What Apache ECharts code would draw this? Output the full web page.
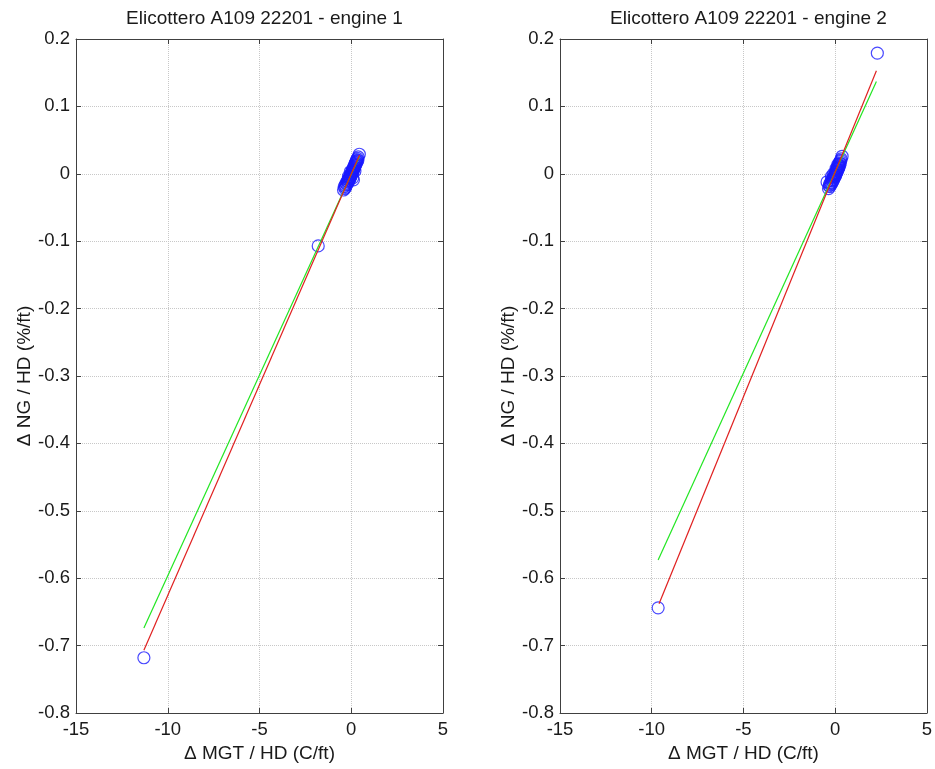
<!DOCTYPE html>
<html>
<head>
<meta charset="utf-8">
<script src="https://cdn.jsdelivr.net/npm/echarts@6/dist/echarts.min.js"></script>
<style>html,body{margin:0;padding:0;background:#fff}#c{width:935px;height:769px}</style>
</head>
<body>
<div id="c"></div>
<script>
// ---- data ----
const titles = ["Elicottero A109 22201 - engine 1", "Elicottero A109 22201 - engine 2"];
const xName = "\u0394 MGT / HD (C/ft)";
const yName = "\u0394 NG / HD (%/ft)";
const xTicks = [-15, -10, -5, 0, 5];
const yTicks = [-0.8, -0.7, -0.6, -0.5, -0.4, -0.3, -0.2, -0.1, 0, 0.1, 0.2];

const points1 = [
  [-11.3, -0.718], [-1.8, -0.107],
  [-0.42, -0.024], [-0.38, -0.019], [-0.35, -0.022], [-0.32, -0.017], [-0.3, -0.020],
  [-0.28, -0.014], [-0.25, -0.016], [-0.22, -0.011], [-0.2, -0.014], [-0.18, -0.009],
  [-0.16, -0.012], [-0.14, -0.007], [-0.12, -0.010], [-0.1, -0.005], [-0.08, -0.008],
  [-0.06, -0.003], [-0.05, -0.006], [-0.03, -0.001], [-0.02, -0.004], [0.0, 0.001],
  [0.01, -0.002], [0.03, 0.003], [0.04, 0.000], [0.06, 0.005], [0.07, 0.002],
  [0.09, 0.007], [0.1, 0.004], [0.12, 0.009], [0.13, 0.006], [0.15, 0.011],
  [0.16, 0.008], [0.18, 0.013], [0.19, 0.010], [0.21, 0.015], [0.22, 0.012],
  [0.24, 0.017], [0.25, 0.014], [0.27, 0.019], [0.28, 0.016], [0.3, 0.021],
  [0.32, 0.018], [0.34, 0.023], [0.36, 0.020], [0.38, 0.025], [0.44, 0.029],
  [0.12, -0.009], [0.08, -0.006], [-0.05, 0.003], [0.2, 0.004], [-0.15, -0.004]
];
const red1 = [[-11.3, -0.707], [0.45, 0.028]];
const green1 = [[-11.3, -0.674], [0.45, 0.026]];

const points2 = [
  [2.3, 0.179], [-9.65, -0.644],
  [-0.44, -0.012], [-0.36, -0.022], [-0.33, -0.018], [-0.3, -0.015], [-0.28, -0.019],
  [-0.25, -0.013], [-0.23, -0.016], [-0.2, -0.010], [-0.18, -0.014], [-0.15, -0.008],
  [-0.13, -0.011], [-0.1, -0.005], [-0.08, -0.009], [-0.06, -0.003], [-0.04, -0.006],
  [-0.02, -0.001], [0.0, -0.004], [0.02, 0.002], [0.03, -0.002], [0.05, 0.004],
  [0.06, 0.000], [0.08, 0.006], [0.09, 0.002], [0.11, 0.008], [0.12, 0.004],
  [0.14, 0.010], [0.15, 0.006], [0.17, 0.012], [0.18, 0.008], [0.2, 0.014],
  [0.21, 0.010], [0.23, 0.016], [0.24, 0.012], [0.26, 0.018], [0.28, 0.015],
  [0.3, 0.020], [0.33, 0.022], [0.38, 0.026], [0.05, 0.008], [-0.1, 0.000],
  [0.15, 0.014], [-0.2, -0.004]
];
const red2 = [[-9.6, -0.638], [2.25, 0.153]];
const green2 = [[-9.65, -0.573], [2.25, 0.137]];

// ---- chart ----
const FONT = "'Liberation Sans', Arial, sans-serif";
const AX = '#404040';
const TXT = '#1a1a1a';
const GRIDC = '#c8c8c8';
const grids = [
  { left: 76, top: 39, width: 367, height: 674 },
  { left: 560, top: 39, width: 367, height: 674 }
];
const xMin = xTicks[0], xMax = xTicks[xTicks.length - 1];
const yMin = yTicks[0], yMax = yTicks[yTicks.length - 1];
const fmtY = v => { const r = Math.round(v * 10) / 10; return r === 0 ? '0' : String(r); };

const xAxes = [], yAxes = [];
grids.forEach((g, i) => {
  const common = {
    gridIndex: i, type: 'value', min: xMin, max: xMax, interval: 5,
    axisLine: { show: true, onZero: false, lineStyle: { color: AX, width: 1 } },
    axisTick: { show: true, inside: true, length: 5, lineStyle: { color: AX } }
  };
  xAxes.push(Object.assign({}, common, {
    position: 'bottom',
    name: xName, nameLocation: 'middle', nameGap: 30,
    nameTextStyle: { fontFamily: FONT, fontSize: 19, color: TXT },
    axisLabel: { show: true, margin: 7, fontFamily: FONT, fontSize: 18.5, color: TXT },
    splitLine: { show: true, lineStyle: { type: 'dotted', color: GRIDC, width: 1 } }
  }));
  xAxes.push(Object.assign({}, common, {
    position: 'top', axisLabel: { show: false }, splitLine: { show: false }
  }));
  const ycommon = {
    gridIndex: i, type: 'value', min: yMin, max: yMax, interval: 0.1,
    axisLine: { show: true, onZero: false, lineStyle: { color: AX, width: 1 } },
    axisTick: { show: true, inside: true, length: 5, lineStyle: { color: AX } }
  };
  yAxes.push(Object.assign({}, ycommon, {
    position: 'left',
    name: yName, nameLocation: 'middle', nameGap: 40, nameRotate: 90,
    nameTextStyle: { fontFamily: FONT, fontSize: 19, color: TXT },
    axisLabel: { show: true, margin: 6, fontFamily: FONT, fontSize: 18.5, color: TXT, formatter: fmtY },
    splitLine: { show: true, lineStyle: { type: 'dotted', color: GRIDC, width: 1 } }
  }));
  yAxes.push(Object.assign({}, ycommon, {
    position: 'right', axisLabel: { show: false }, splitLine: { show: false }
  }));
});

function scatter(data, i) {
  return {
    type: 'scatter', xAxisIndex: i * 2, yAxisIndex: i * 2, data: data,
    symbol: 'circle', symbolSize: 12,
    itemStyle: { color: 'rgba(0,0,0,0)', borderColor: '#1a1aff', borderWidth: 1.2 },
    z: 2
  };
}
function line(data, i, color) {
  return {
    type: 'line', xAxisIndex: i * 2, yAxisIndex: i * 2, data: data,
    symbol: 'none', showSymbol: false,
    lineStyle: { color: color, width: 1.2 }, z: 3
  };
}

const option = {
  animation: false,
  backgroundColor: '#ffffff',
  title: titles.map((t, i) => ({
    text: t, left: grids[i].left + grids[i].width / 2, top: 4, textAlign: 'center',
    textStyle: { fontFamily: FONT, fontSize: 19, fontWeight: 'normal', color: TXT }
  })),
  grid: grids,
  xAxis: xAxes,
  yAxis: yAxes,
  series: [
    scatter(points1, 0), line(green1, 0, '#22e622'), line(red1, 0, '#e02020'),
    scatter(points2, 1), line(green2, 1, '#22e622'), line(red2, 1, '#e02020')
  ]
};
const chart = echarts.init(document.getElementById('c'), null, { renderer: 'canvas' });
chart.setOption(option);
</script>
</body>
</html>
